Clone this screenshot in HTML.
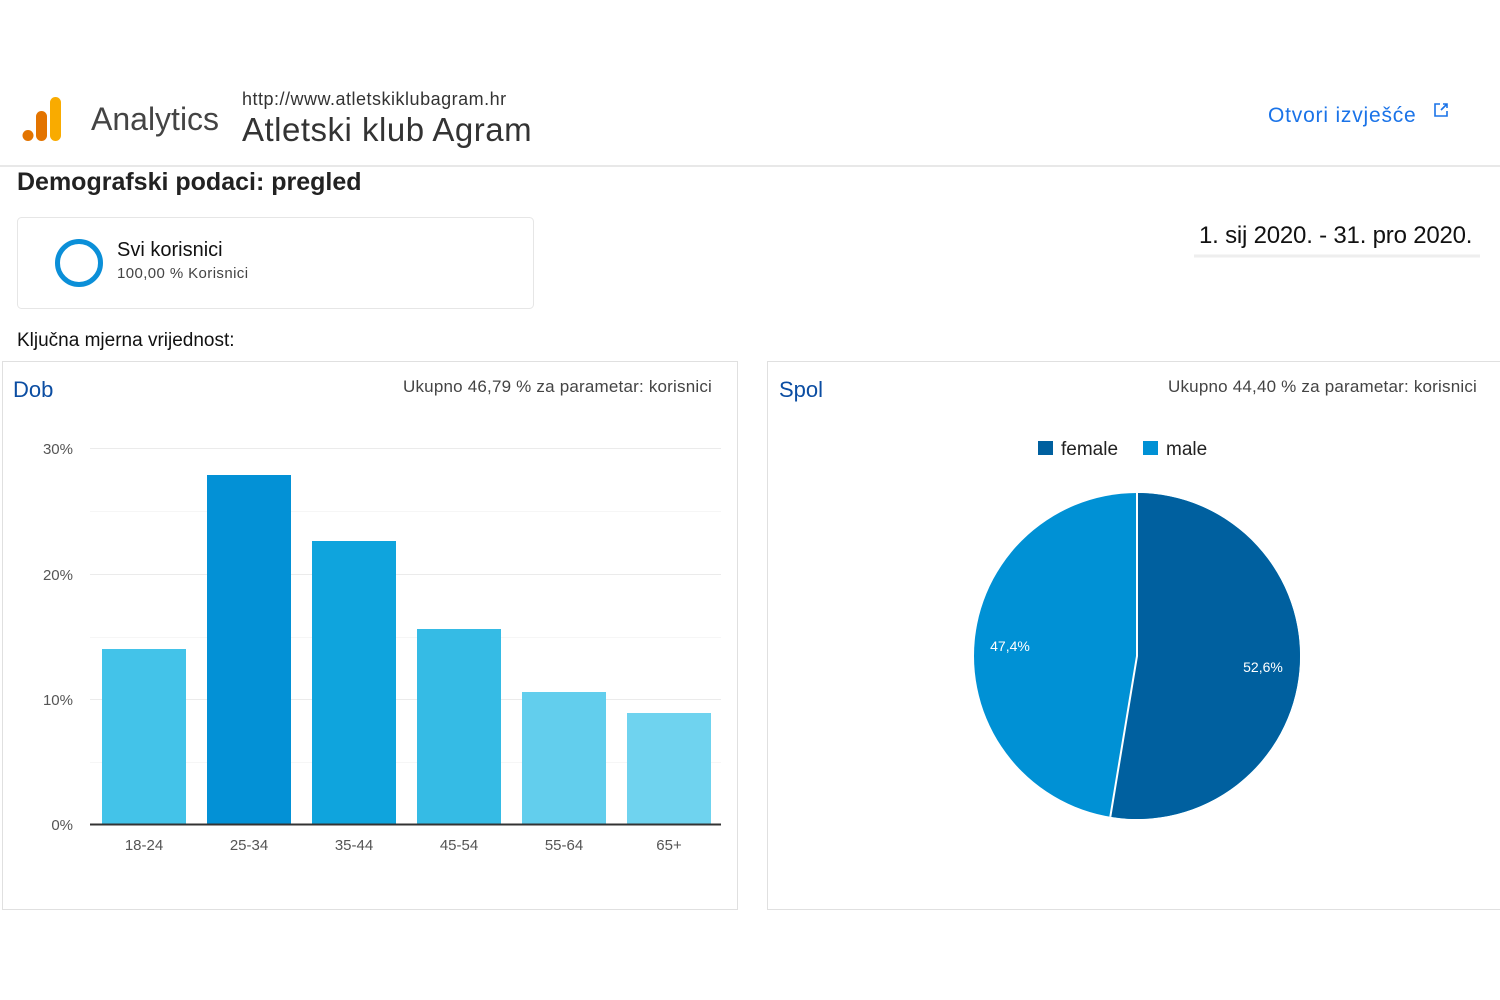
<!DOCTYPE html>
<html><head><meta charset="utf-8"><style>
body{margin:0;width:1500px;height:1000px;background:#fff;position:relative;overflow:hidden;font-family:"Liberation Sans",sans-serif;}
.a{position:absolute;white-space:nowrap;}
</style></head><body>
<svg class="a" style="left:0;top:0" width="1500" height="1000">
  <rect x="50" y="97" width="11" height="44" rx="5.5" fill="#f9ab00"/>
  <rect x="36" y="111" width="11" height="30" rx="5.5" fill="#e37400"/>
  <circle cx="28" cy="135.5" r="5.5" fill="#e37400"/>
  <line x1="0" y1="166" x2="1500" y2="166" stroke="#e0e0e0" stroke-width="1.5"/>
  <rect x="17.5" y="217.5" width="516" height="91" rx="4" fill="none" stroke="#e6e6e6"/>
  <circle cx="79" cy="263" r="21.5" fill="none" stroke="#0b8fd8" stroke-width="5"/>
  <line x1="1194" y1="256" x2="1480" y2="256" stroke="#eeeeee" stroke-width="3"/>
  <rect x="2.5" y="361.5" width="735" height="548" fill="none" stroke="#e0e0e0"/>
  <rect x="767.5" y="361.5" width="740" height="548" fill="none" stroke="#e0e0e0"/>
  <g stroke="#ebebeb" stroke-width="1">
    <line x1="90" y1="448.5" x2="721" y2="448.5"/>
    <line x1="90" y1="574.5" x2="721" y2="574.5"/>
    <line x1="90" y1="699.5" x2="721" y2="699.5"/>
  </g>
  <g stroke="#f6f6f6" stroke-width="1">
    <line x1="90" y1="511.5" x2="721" y2="511.5"/>
    <line x1="90" y1="637.5" x2="721" y2="637.5"/>
    <line x1="90" y1="762.5" x2="721" y2="762.5"/>
  </g>
  <rect x="102" y="649" width="84" height="175" fill="#43c3e9"/>
  <rect x="207" y="475" width="84" height="349" fill="#0391d6"/>
  <rect x="312" y="541" width="84" height="283" fill="#0fa4dd"/>
  <rect x="417" y="629" width="84" height="195" fill="#35bbe5"/>
  <rect x="522" y="692" width="84" height="132" fill="#62ceed"/>
  <rect x="627" y="713" width="84" height="111" fill="#6fd3ef"/>
  <line x1="90" y1="824.5" x2="721" y2="824.5" stroke="#333" stroke-width="2"/>
  <g font-size="15" fill="#555" text-anchor="end" font-family="Liberation Sans,sans-serif">
    <text x="73" y="454">30%</text><text x="73" y="580">20%</text>
    <text x="73" y="705">10%</text><text x="73" y="830">0%</text>
  </g>
  <g font-size="15" fill="#555" text-anchor="middle" font-family="Liberation Sans,sans-serif">
    <text x="144" y="850">18-24</text><text x="249" y="850">25-34</text><text x="354" y="850">35-44</text>
    <text x="459" y="850">45-54</text><text x="564" y="850">55-64</text><text x="669" y="850">65+</text>
  </g>
  <circle cx="1137" cy="656" r="163" fill="#0091d5"/>
  <path d="M1137,656 L1137,493 A163,163 0 1,1 1110.3,816.8 Z" fill="#00609f"/>
  <path d="M1137,493 L1137,656 L1110.3,816.8" fill="none" stroke="#fff" stroke-width="2"/>
  <text x="1010" y="651" font-size="14" fill="#fff" text-anchor="middle" font-family="Liberation Sans,sans-serif">47,4%</text>
  <text x="1263" y="672" font-size="14" fill="#fff" text-anchor="middle" font-family="Liberation Sans,sans-serif">52,6%</text>
  <rect x="1038" y="441" width="15" height="14" fill="#00609f"/>
  <rect x="1143" y="441" width="15" height="14" fill="#0091d5"/>
  <text x="1061" y="455" font-size="19" fill="#222" font-family="Liberation Sans,sans-serif">female</text>
  <text x="1166" y="455" font-size="19" fill="#222" font-family="Liberation Sans,sans-serif">male</text>
  <g stroke="#1a73e8" stroke-width="1.6" fill="none">
    <path d="M1440 104 h-5 v12 h12 v-5"/>
    <path d="M1441 110 l6 -6 M1443 104 h4 v4"/>
  </g>
</svg>
<div class="a" style="left:91px;top:101px;font-size:32px;color:#444;">Analytics</div>
<div class="a" style="left:242px;top:89px;font-size:18px;color:#333;letter-spacing:0.5px;">http://www.atletskiklubagram.hr</div>
<div class="a" style="left:242px;top:111px;font-size:33px;color:#333;letter-spacing:0.5px;">Atletski klub Agram</div>
<div class="a" style="left:1268px;top:104px;font-size:21px;color:#1a73e8;letter-spacing:0.8px;">Otvori izvješće</div>
<div class="a" style="left:17px;top:168px;font-size:25px;font-weight:bold;color:#222;">Demografski podaci: pregled</div>
<div class="a" style="left:117px;top:239px;font-size:20px;color:#111;">Svi korisnici</div>
<div class="a" style="left:117px;top:265px;font-size:15px;color:#444;letter-spacing:0.4px;">100,00 % Korisnici</div>
<div class="a" style="left:1199px;top:222px;font-size:24px;color:#111;letter-spacing:-0.2px;">1. sij 2020. - 31. pro 2020.</div>
<div class="a" style="left:17px;top:330px;font-size:19px;color:#111;">Ključna mjerna vrijednost:</div>
<div class="a" style="left:13px;top:377px;font-size:22px;color:#0b4da2;">Dob</div>
<div class="a" style="left:403px;top:377px;font-size:17px;color:#444;letter-spacing:0.2px;">Ukupno 46,79 % za parametar: korisnici</div>
<div class="a" style="left:779px;top:377px;font-size:22px;color:#0b4da2;">Spol</div>
<div class="a" style="left:1168px;top:377px;font-size:17px;color:#444;letter-spacing:0.2px;">Ukupno 44,40 % za parametar: korisnici</div>
</body></html>
